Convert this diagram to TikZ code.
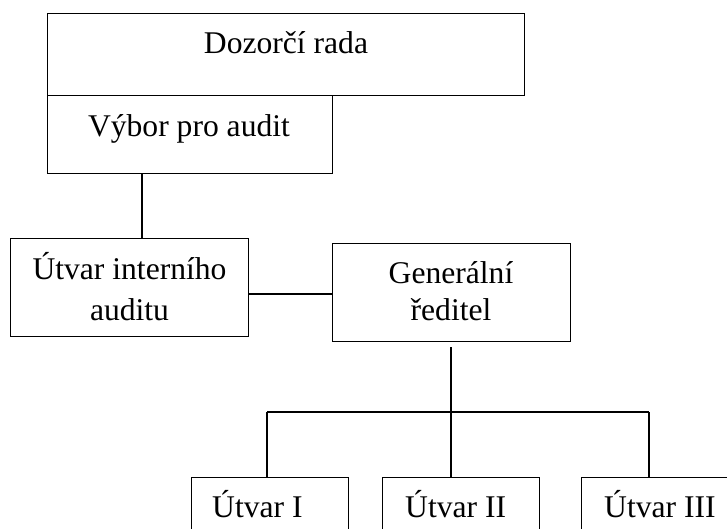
\documentclass[tikz,border=0pt]{standalone}
\usepackage{fontspec}
\setmainfont{Liberation Serif}
\begin{document}
\begin{tikzpicture}[x=1pt,y=-1pt,
  box/.style={draw=black,line width=1.4pt,rectangle,inner sep=0pt,anchor=north west},
  lbl/.style={inner sep=0pt,font=\fontsize{31.6}{37}\selectfont},
  conn/.style={draw=black,line width=1.3pt}]
\useasboundingbox (0,0) rectangle (727,528);
\clip (0,0) rectangle (727,528);
% boxes
\node[box,minimum width=477pt,minimum height=82pt] (doz) at (47,13) {};
\node[box,minimum width=285pt,minimum height=78pt] (vyb) at (47,95) {};
\node[box,minimum width=238pt,minimum height=98pt] (uia) at (10,238) {};
\node[box,minimum width=238pt,minimum height=98pt] (gen) at (332,243) {};
\node[box,minimum width=157pt,minimum height=90pt] (u1) at (191,477) {};
\node[box,minimum width=157pt,minimum height=90pt] (u2) at (382,477) {};
\node[box,minimum width=157pt,minimum height=90pt] (u3) at (581,477) {};
% labels
\node[lbl,anchor=base] (tdoz) at (286,53) {Dozorčí rada};
\node[lbl,anchor=base] (tvyb) at (189,136) {Výbor pro audit};
\node[lbl,anchor=base] (tuia1) at (129.5,279) {Útvar interního};
\node[lbl,anchor=base] (tuia2) at (129.5,320) {auditu};
\node[lbl,anchor=base] (tgen1) at (451,283) {Generální};
\node[lbl,anchor=base] (tgen2) at (451,320) {ředitel};
\node[lbl,anchor=base west] (tu1) at (212,517) {Útvar I};
\node[lbl,anchor=base west] (tu2) at (405,517) {Útvar II};
\node[lbl,anchor=base west] (tu3) at (604,517) {Útvar III};
% helper coordinates
\coordinate (va) at (142,0);
\coordinate (hh) at (0,294);
\coordinate (gs) at (451,347);
\coordinate (bl) at (267,412);
\coordinate (br) at (649,412);
% connectors
\draw[conn] (vyb.south -| va) -- (uia.north -| va);
\draw[conn] (uia.east |- hh) -- (gen.west |- hh);
\draw[conn] (gs) -- (gs |- u2.north);
\draw[conn] (bl) -- (br);
\draw[conn] (bl) -- (bl |- u1.north);
\draw[conn] (br) -- (br |- u3.north);
\end{tikzpicture}
\end{document}
